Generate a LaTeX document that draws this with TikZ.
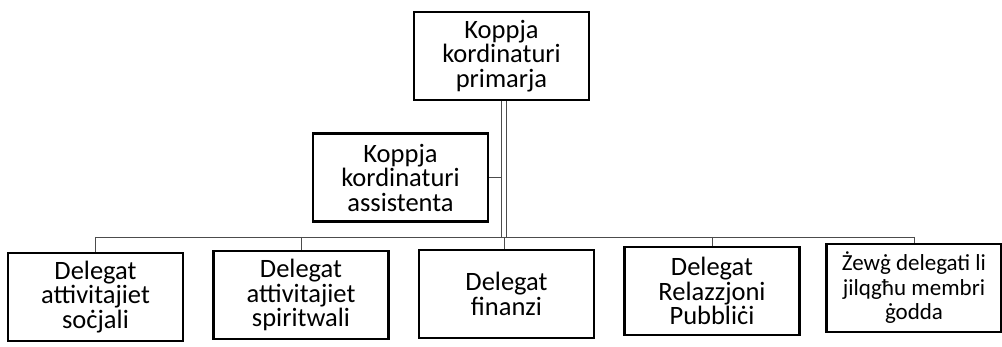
\documentclass[tikz,border=0pt]{standalone}
\usepackage{fontspec}
\setmainfont{Carlito}
\begin{document}
\begin{tikzpicture}[x=1pt,y=-1pt,
  orgbox/.style={draw=black, line width=2.6pt, fill=white, minimum width=175pt,
    minimum height=88pt, inner sep=0pt, align=center,
    font=\fontsize{26.5}{24.5}\selectfont},
  small/.style={font=\fontsize{23}{24.5}\selectfont},
  conn/.style={draw=black!70, line width=0.6pt},
  spine/.style={draw=black!70, line width=0.6pt, double=white, double distance=4pt}]
\useasboundingbox (0,0) rectangle (1002,347);
\node[orgbox] (top) at (501.5,56) {Koppja\\kordinaturi\\primarja};
\node[orgbox] (ast) at (400.5,177.5) {Koppja\\kordinaturi\\assistenta};
\node[orgbox] (b1) at (95.5,297) {Delegat\\attivitajiet\\soċjali};
\node[orgbox] (b2) at (301,295) {Delegat\\attivitajiet\\spiritwali};
\node[orgbox] (b3) at (506.5,294) {Delegat\\finanzi};
\node[orgbox] (b4) at (712,291) {Delegat\\Relazzjoni\\Pubbliċi};
\node[orgbox,small] (b5) at (914,288) {Żewġ delegati li\\jilqgħu membri\\ġodda};
\coordinate (bus) at (0,237);
\coordinate (sb) at ([xshift=2.5pt]top.south |- bus);
\coordinate (st) at ([xshift=2.5pt]top.south);
\draw[conn] (b1.north |- bus) -- (b5.north |- bus);
\foreach \b in {b1,b2,b4,b5} \draw[conn] (\b.north |- bus) -- (\b.north);
\draw[conn] (sb) -- (sb |- b3.north);
\draw[conn] (ast.east) -- (st |- ast.east);
\draw[spine] (st) -- (sb);
\end{tikzpicture}
\end{document}
